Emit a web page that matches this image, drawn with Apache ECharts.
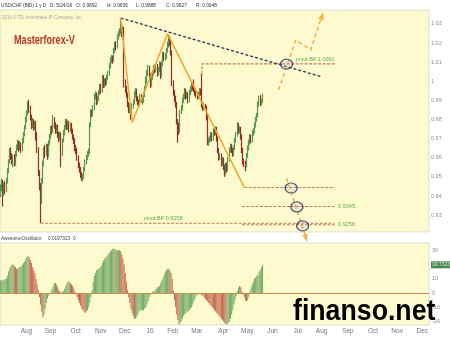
<!DOCTYPE html>
<html><head><meta charset="utf-8">
<script src="https://cdn.jsdelivr.net/npm/echarts@6/dist/echarts.min.js"></script>
<style>html,body{margin:0;padding:0;background:#fff}#c{width:450px;height:337px}</style>
</head><body><div id="c"></div>
<script>
// ---- DATA ----
// daily candles USD/CHF from 2015-07-06 to 2016-05-24 : [open, close, low, high]
const ohlc = [
[0.9420,0.9440,0.9395,0.9462],[0.9440,0.9470,0.9425,0.9492],[0.9470,0.9415,0.9345,0.9485],[0.9415,0.9455,0.9400,0.9470],[0.9455,0.9430,0.9410,0.9478],
[0.9430,0.9480,0.9420,0.9495],[0.9480,0.9530,0.9465,0.9545],[0.9530,0.9580,0.9520,0.9592],[0.9580,0.9635,0.9570,0.9650],[0.9635,0.9610,0.9590,0.9655],
[0.9610,0.9585,0.9565,0.9625],[0.9585,0.9600,0.9550,0.9615],[0.9600,0.9570,0.9555,0.9618],[0.9570,0.9620,0.9560,0.9635],[0.9620,0.9655,0.9605,0.9670],
[0.9655,0.9680,0.9640,0.9695],[0.9680,0.9650,0.9632,0.9690],[0.9650,0.9670,0.9638,0.9688],[0.9670,0.9645,0.9625,0.9680],[0.9645,0.9690,0.9635,0.9705],
[0.9690,0.9720,0.9675,0.9735],[0.9720,0.9760,0.9712,0.9772],[0.9760,0.9800,0.9748,0.9815],[0.9800,0.9830,0.9785,0.9848],[0.9830,0.9875,0.9820,0.9895],
[0.9875,0.9860,0.9835,0.9903],[0.9860,0.9810,0.9795,0.9872],[0.9810,0.9770,0.9750,0.9825],[0.9770,0.9790,0.9755,0.9808],[0.9790,0.9760,0.9742,0.9802],
[0.9760,0.9780,0.9745,0.9795],[0.9780,0.9720,0.9690,0.9792],[0.9720,0.9640,0.9625,0.9735],[0.9640,0.9520,0.9505,0.9655],[0.9520,0.9450,0.9430,0.9535],
[0.9450,0.9380,0.9259,0.9468],[0.9380,0.9480,0.9360,0.9495],[0.9480,0.9570,0.9465,0.9585],[0.9570,0.9640,0.9555,0.9655],[0.9640,0.9620,0.9600,0.9668],
[0.9620,0.9660,0.9610,0.9675],[0.9660,0.9610,0.9590,0.9672],[0.9610,0.9680,0.9602,0.9692],[0.9680,0.9710,0.9665,0.9725],[0.9710,0.9750,0.9700,0.9765],
[0.9750,0.9740,0.9722,0.9770],[0.9740,0.9800,0.9732,0.9824],[0.9800,0.9770,0.9752,0.9812],[0.9770,0.9740,0.9725,0.9785],[0.9740,0.9760,0.9728,0.9775],
[0.9760,0.9720,0.9705,0.9772],[0.9720,0.9700,0.9682,0.9735],[0.9700,0.9720,0.9690,0.9738],[0.9720,0.9620,0.9550,0.9732],[0.9620,0.9690,0.9610,0.9702],
[0.9690,0.9730,0.9680,0.9745],[0.9730,0.9760,0.9718,0.9772],[0.9760,0.9790,0.9748,0.9805],[0.9790,0.9760,0.9745,0.9802],[0.9760,0.9780,0.9748,0.9795],
[0.9780,0.9750,0.9732,0.9792],[0.9750,0.9770,0.9738,0.9785],[0.9770,0.9740,0.9725,0.9782],[0.9740,0.9710,0.9695,0.9752],[0.9710,0.9690,0.9672,0.9722],
[0.9690,0.9650,0.9635,0.9702],[0.9650,0.9640,0.9620,0.9668],[0.9640,0.9600,0.9585,0.9652],[0.9600,0.9560,0.9545,0.9612],[0.9560,0.9540,0.9522,0.9575],
[0.9540,0.9510,0.9495,0.9552],[0.9510,0.9490,0.9480,0.9525],[0.9490,0.9500,0.9476,0.9515],[0.9500,0.9540,0.9490,0.9552],[0.9540,0.9580,0.9530,0.9592],
[0.9580,0.9600,0.9565,0.9615],[0.9600,0.9620,0.9588,0.9635],[0.9620,0.9630,0.9605,0.9648],[0.9630,0.9770,0.9620,0.9785],[0.9770,0.9840,0.9760,0.9855],
[0.9840,0.9830,0.9812,0.9852],[0.9830,0.9860,0.9818,0.9875],[0.9860,0.9920,0.9848,0.9935],[0.9920,0.9930,0.9905,0.9948],[0.9930,0.9890,0.9875,0.9942],
[0.9890,0.9910,0.9880,0.9925],[0.9910,0.9940,0.9898,0.9955],[0.9940,0.9970,0.9928,0.9985],[0.9970,0.9950,0.9935,0.9988],[0.9950,1.0020,0.9942,1.0035],
[1.0020,0.9980,0.9965,1.0032],[0.9980,1.0000,0.9968,1.0015],[1.0000,0.9990,0.9975,1.0018],[0.9990,1.0020,0.9982,1.0035],[1.0020,1.0040,1.0008,1.0055],
[1.0040,1.0080,1.0030,1.0095],[1.0080,1.0110,1.0068,1.0125],[1.0110,1.0120,1.0095,1.0138],[1.0120,1.0110,1.0092,1.0135],[1.0110,1.0160,1.0102,1.0175],
[1.0160,1.0190,1.0148,1.0205],[1.0190,1.0180,1.0162,1.0210],[1.0180,1.0230,1.0172,1.0245],[1.0230,1.0250,1.0218,1.0265],[1.0250,1.0260,1.0235,1.0278],
[1.0260,1.0280,1.0245,1.0331],[1.0280,1.0250,1.0232,1.0300],[1.0250,1.0270,1.0238,1.0290],[1.0270,0.9990,0.9968,1.0285],[0.9990,0.9960,0.9940,1.0010],
[0.9960,0.9930,0.9915,0.9975],[0.9930,0.9880,0.9865,0.9942],[0.9880,0.9850,0.9835,0.9892],[0.9850,0.9870,0.9832,0.9885],[0.9870,0.9840,0.9800,0.9882],
[0.9840,0.9870,0.9828,0.9885],[0.9870,0.9890,0.9858,0.9905],[0.9890,0.9930,0.9878,0.9948],[0.9930,0.9950,0.9915,0.9965],[0.9950,0.9910,0.9895,0.9962],
[0.9910,0.9890,0.9875,0.9922],[0.9890,0.9880,0.9862,0.9905],[0.9880,0.9920,0.9870,0.9935],[0.9920,0.9905,0.9890,0.9932],
[0.9890,0.9900,0.9878,0.9915],[0.9900,0.9930,0.9888,0.9945],[0.9930,0.9960,0.9918,0.9975],[0.9960,1.0010,0.9950,1.0025],
[1.0005,1.0040,0.9990,1.0058],[1.0040,1.0070,1.0028,1.0085],[1.0070,1.0030,1.0015,1.0082],[1.0030,0.9980,0.9965,1.0042],[0.9980,1.0020,0.9972,1.0035],
[1.0020,1.0040,1.0008,1.0055],[1.0040,1.0070,1.0030,1.0085],[1.0070,1.0060,1.0042,1.0088],[1.0060,1.0080,1.0048,1.0095],[1.0080,1.0040,1.0025,1.0092],
[1.0040,1.0060,1.0030,1.0075],[1.0060,1.0090,1.0048,1.0105],[1.0090,1.0030,1.0012,1.0100],[1.0030,1.0090,1.0022,1.0105],[1.0090,1.0140,1.0080,1.0155],
[1.0140,1.0120,1.0105,1.0152],[1.0120,1.0130,1.0108,1.0148],[1.0130,1.0160,1.0118,1.0175],[1.0160,1.0190,1.0150,1.0210],[1.0190,1.0220,1.0175,1.0242],
[1.0220,1.0200,1.0185,1.0238],[1.0200,1.0150,1.0135,1.0215],[1.0150,0.9990,0.9975,1.0162],[0.9990,0.9940,0.9925,1.0005],[0.9940,0.9910,0.9892,0.9955],
[0.9910,0.9880,0.9862,0.9925],[0.9880,0.9790,0.9775,0.9892],[0.9790,0.9770,0.9680,0.9802],[0.9770,0.9740,0.9720,0.9785],[0.9740,0.9840,0.9732,0.9852],
[0.9840,0.9860,0.9828,0.9875],[0.9860,0.9900,0.9848,0.9915],[0.9900,0.9920,0.9888,0.9935],[0.9920,0.9950,0.9908,0.9965],[0.9950,0.9920,0.9905,0.9962],
[0.9920,0.9930,0.9908,0.9948],[0.9930,0.9900,0.9885,0.9942],[0.9900,0.9940,0.9890,0.9955],[0.9940,0.9960,0.9928,0.9975],[0.9960,0.9980,0.9945,0.9995],
[0.9980,0.9970,0.9952,0.9992],[0.9970,0.9960,0.9945,1.0010],[0.9960,0.9940,0.9925,0.9972],[0.9940,0.9930,0.9915,0.9955],[0.9930,0.9920,0.9905,0.9945],
[0.9920,0.9930,0.9908,0.9945],[0.9930,0.9950,0.9918,0.9965],[0.9950,0.9940,0.9925,0.9962],[0.9940,0.9880,0.9862,1.0040],[0.9880,0.9860,0.9845,0.9895],
[0.9860,0.9870,0.9848,0.9885],[0.9870,0.9860,0.9845,0.9882],[0.9860,0.9810,0.9795,0.9872],[0.9810,0.9680,0.9665,0.9822],[0.9680,0.9690,0.9662,0.9705],
[0.9690,0.9700,0.9678,0.9715],[0.9700,0.9720,0.9688,0.9735],[0.9720,0.9700,0.9685,0.9732],[0.9700,0.9740,0.9690,0.9755],[0.9740,0.9730,0.9715,0.9752],
[0.9730,0.9750,0.9718,0.9765],[0.9750,0.9700,0.9685,0.9762],[0.9700,0.9640,0.9625,0.9712],[0.9640,0.9600,0.9585,0.9652],[0.9600,0.9610,0.9588,0.9625],
[0.9610,0.9570,0.9555,0.9622],[0.9570,0.9590,0.9558,0.9605],[0.9590,0.9550,0.9535,0.9602],[0.9550,0.9520,0.9500,0.9565],[0.9520,0.9560,0.9510,0.9575],
[0.9560,0.9540,0.9522,0.9575],[0.9540,0.9590,0.9530,0.9605],[0.9590,0.9640,0.9580,0.9655],[0.9640,0.9660,0.9628,0.9675],[0.9660,0.9640,0.9625,0.9672],
[0.9640,0.9620,0.9605,0.9652],[0.9620,0.9650,0.9610,0.9665],[0.9650,0.9690,0.9640,0.9705],[0.9690,0.9720,0.9678,0.9735],[0.9720,0.9770,0.9710,0.9787],
[0.9770,0.9740,0.9725,0.9782],[0.9740,0.9750,0.9728,0.9765],[0.9750,0.9710,0.9695,0.9762],[0.9710,0.9640,0.9625,0.9722],[0.9640,0.9580,0.9565,0.9652],
[0.9580,0.9570,0.9552,0.9595],[0.9570,0.9560,0.9530,0.9585],[0.9560,0.9610,0.9550,0.9625],[0.9610,0.9650,0.9600,0.9665],[0.9650,0.9680,0.9638,0.9695],
[0.9680,0.9710,0.9668,0.9725],[0.9710,0.9690,0.9675,0.9722],[0.9690,0.9730,0.9680,0.9745],[0.9730,0.9740,0.9715,0.9755],[0.9740,0.9770,0.9728,0.9785],
[0.9770,0.9800,0.9758,0.9815],[0.9800,0.9820,0.9788,0.9835],[0.9820,0.9880,0.9810,0.9895],[0.9880,0.9910,0.9868,0.9925],[0.9910,0.9890,0.9872,0.9928],
[0.9890,0.9892,0.9875,0.9908],[0.9892,0.9927,0.9888,0.9936]
];
// Awesome Oscillator (x1000)
const ao = [
9,9,9,9,10,10,12,15,17,19,20,20,19,18,17,17,18,18,19,20,21,22,24,25,26,25,23,21,18,16,14,10,6,2,
-3,-8,-13,-17,-15,-11,-7,-4,-2,0,1,3,5,7,7,6,4,2,1,0,1,1,3,5,7,8,8,7,6,5,3,1,-1,-3,
-5,-7,-9,-11,-12,-13,-14,-13,-12,-10,-7,-3,2,8,12,14,16,17,17,18,19,21,23,24,25,26,27,
28,29,30,31,31,31,30,30,30,30,29,27,24,20,14,8,2,-3,-7,-11,-14,-16,-18,
-18,-17,-15,-13,-12,-12,-12,-12,-11,-10,-8,-6,-3,-1,0,1,1,2,3,4,4,5,7,9,11,13,15,16,17,17,16,14,10,2,
-5,-10,-15,-19,-22,-21,-20,-18,-16,-15,-14,-13,-13,-12,-11,-10,-8,-6,-4,-2,-1,-1,0,
-1,-2,-2,-3,-4,-5,-6,-7,-8,-9,-10,-11,-12,-13,-14,-15,-16,-17,-18,-19,-20,-21,
-22,-22,-21,-20,-18,-15,-12,-8,-5,-2,1,4,5,4,1,-1,-3,-5,-6,-5,-3,1,4,6,8,10,11,12,13,15,16,18,19.7323
];
const priceTicks = [0.93,0.94,0.95,0.96,0.97,0.98,0.99,1.00,1.01,1.02,1.03];
const aoTicks = [-20,-10,0,10,30];
const holidays = ['2015-12-25','2016-01-01'];
// annotation points [date, price]
const trendLine = [['2015-11-30',1.0331],['2016-08-04',1.0023]];
const waveLine  = [['2015-11-30',1.0331],['2015-12-14',0.9785],['2016-01-28',1.0248],['2016-05-02',0.9445]];
const upPath    = [['2016-06-13',0.9955],['2016-07-04',1.0216],['2016-07-21',1.0164],['2016-08-04',1.0342]];
const downPath  = [['2016-06-22',0.9494],['2016-07-15',0.9180]];
const pivotHigh = [['2016-03-10',1.0040],['2016-03-10',1.0091],['2016-08-19',1.0091]];
const level9445 = [['2016-05-02',0.9445],['2016-08-19',0.9445]];
const level9345 = [['2016-04-28',0.9345],['2016-08-19',0.9345]];
const level9250 = [['2016-04-28',0.9250],['2016-08-19',0.9250]];
const pivotLow  = [['2015-08-24',0.9258],['2016-08-19',0.9258]];
const circles   = [['2016-06-22',1.0090],['2016-06-28',0.9442],['2016-07-05',0.9343],['2016-07-12',0.9244]];
const levelLabels = [
  {at:['2016-08-19',1.0091], text:'pivot BF 1.0091', pos:'top'},
  {at:['2016-02-16',0.9258], text:'pivot BF 0.9258', pos:'top'},
  {at:['2016-08-19',0.9345], text:'0.9345', pos:'right'},
  {at:['2016-08-19',0.9250], text:'0.9250', pos:'right'}
];

// ---- axis categories (weekdays) ----
const dates = [];
(function(){
  const d = new Date(Date.UTC(2015,6,6)), end = Date.UTC(2016,11,13);
  while (d.getTime() <= end) {
    const w = d.getUTCDay(), s = d.toISOString().slice(0,10);
    if (w !== 0 && w !== 6 && holidays.indexOf(s) < 0) dates.push(s);
    d.setUTCDate(d.getUTCDate()+1);
  }
})();
const MON = ['Jan','Feb','Mar','Apr','May','Jun','Jul','Aug','Sep','Oct','Nov','Dec'];
function isMonthStart(i){ return i>0 && dates[i].slice(5,7)!==dates[i-1].slice(5,7); }
function monthLabel(v){ const m = +v.slice(5,7)-1; return m===0 ? v.slice(2,4) : MON[m]; }

const UP='#559a52', DOWN='#952c22', AOUP='#72a966', AODN='#c4674f';
const ORANGE='#f0a72c', LEVEL='#c47a55', NAVY='#2f2f5c', GREEN='#2f962f';
const FONT='Liberation Sans';

function pathSeries(pts, style, z){
  return {type:'line', xAxisIndex:0, yAxisIndex:0, data:pts, symbol:'none', clip:false, silent:true,
    animation:false, z:z||5, lineStyle:style};
}
function txt(x, y, s, size, fill, sx, extra){
  return {type:'text', x:x, y:y, z:20, scaleX:sx||1,
    style:Object.assign({text:s, fill:fill, font:size+'px '+FONT, verticalAlign:'middle'}, extra||{})};
}

const chart = echarts.init(document.getElementById('c'), null, {renderer:'canvas'});
chart.setOption({
  animation:false,
  backgroundColor:'#ffffff',
  textStyle:{fontFamily:'Liberation Sans, Arial, sans-serif'},
  grid:[
    {left:0, top:10, width:429, height:222, show:true, backgroundColor:'#fdfad0', borderColor:'#c9c9c9', borderWidth:0.6},
    {left:0, top:243, width:429, height:82, show:true, backgroundColor:'#fdfad0', borderColor:'#c9c9c9', borderWidth:0.6}
  ],
  xAxis:[
    {type:'category', gridIndex:0, data:dates, boundaryGap:true, axisLine:{show:false}, axisTick:{show:false}, axisLabel:{show:false}, splitLine:{show:false}},
    {type:'category', gridIndex:1, data:dates, boundaryGap:true, axisLine:{show:false}, axisTick:{show:false}, splitLine:{show:false},
     axisLabel:{interval:function(i){return isMonthStart(i);}, formatter:monthLabel, color:'#777', fontSize:6.5, margin:3, padding:[0,0,0,6]}}
  ],
  yAxis:[
    {type:'value', gridIndex:0, position:'right', min:0.9212, max:1.0373, scale:true,
     axisLine:{show:false}, axisTick:{show:false}, splitLine:{show:false},
     axisLabel:{customValues:priceTicks, color:'#8a8a8a', fontSize:5.5, margin:2,
       formatter:function(v){return String(Math.round(v*100)/100);}}},
    {type:'value', gridIndex:1, position:'right', min:-22.4, max:35,
     axisLine:{show:false}, axisTick:{show:false}, splitLine:{show:false},
     axisLabel:{customValues:aoTicks, color:'#8a8a8a', fontSize:5.5, margin:3}}
  ],
  series:[
    {type:'candlestick', xAxisIndex:0, yAxisIndex:0, data:ohlc, barWidth:'95%', z:2,
     itemStyle:{color:UP, color0:DOWN, borderColor:UP, borderColor0:DOWN, borderWidth:1.2}},
    {type:'bar', xAxisIndex:1, yAxisIndex:1, data:ao, barWidth:'62%', silent:true,
     itemStyle:{color:function(p){const i=p.dataIndex; return (i===0||ao[i]>=ao[i-1])?AOUP:AODN;}},
     markLine:{silent:true, symbol:'none', label:{show:false}, lineStyle:{color:'#c8904e', width:1, type:'solid'}, data:[{yAxis:0}]}},
    // last AO value box
    {type:'scatter', xAxisIndex:1, yAxisIndex:1, symbolSize:1, itemStyle:{color:'transparent'}, silent:true, z:10,
     data:[[dates[dates.length-1], ao[ao.length-1]]],
     label:{show:true, position:'right', distance:2, formatter:function(p){return p.value[1].toFixed(4);},
       backgroundColor:'#1f6a2b', color:'#fff', fontSize:5, padding:[1,1,1,1]}},
    // levels
    pathSeries(pivotLow, {color:LEVEL, width:1.1, type:[3,1.5]}, 4),
    pathSeries(level9445, {color:LEVEL, width:1.1, type:[3,1.5]}, 4),
    pathSeries(level9345, {color:LEVEL, width:1.1, type:[3,1.5]}, 4),
    pathSeries(level9250, {color:LEVEL, width:1.1, type:[3,1.5]}, 4),
    pathSeries(pivotHigh, {color:LEVEL, width:1.1, type:[3,1.5]}, 4),
    // trend line & waves
    pathSeries(trendLine, {color:NAVY, width:1.3, type:[3,2]}, 5),
    pathSeries(waveLine, {color:ORANGE, width:1.5, type:'solid'}, 5),
    pathSeries(upPath, {color:ORANGE, width:1.3, type:[4,3]}, 6),
    pathSeries(downPath, {color:ORANGE, width:1.3, type:[4,3]}, 6),
    // arrow heads
    {type:'scatter', xAxisIndex:0, yAxisIndex:0, clip:false, silent:true, z:7, symbol:'triangle', symbolSize:[6,8],
     itemStyle:{color:ORANGE},
     data:[{value:upPath[upPath.length-1], symbolRotate:-18},{value:downPath[downPath.length-1], symbolRotate:-162}]},
    // circles
    {type:'scatter', xAxisIndex:0, yAxisIndex:0, clip:false, silent:true, z:8, symbol:'circle', symbolSize:[12,10],
     itemStyle:{color:'rgba(170,180,215,0.25)', borderColor:NAVY, borderWidth:1.3}, data:circles},
    // level labels
    {type:'scatter', xAxisIndex:0, yAxisIndex:0, clip:false, silent:true, z:9, symbolSize:1, itemStyle:{color:'transparent'},
     data:levelLabels.map(function(l){return {value:l.at, label:{show:true, formatter:l.text, position:l.pos,
        align:l.pos==='top'?'right':'left', distance:l.pos==='top'?1:3, color:GREEN, fontSize:5.5}};})}
  ],
  graphic:[
    txt(1, 5, 'USD/CHF (BID) 1 y D', 6, '#333', 0.78),
    txt(50, 5, 'D: 5/24/16', 6, '#333', 0.8),
    txt(76, 5, 'O: 0.9892', 6, '#333', 0.8),
    txt(107, 5, 'H: 0.9936', 6, '#333', 0.8),
    txt(136, 5, 'L: 0.9888', 6, '#333', 0.8),
    txt(166, 5, 'C: 0.9927', 6, '#333', 0.8),
    txt(196, 5, 'R: 0.0048', 6, '#333', 0.8),
    txt(2, 17, '2016 \u00a9 TD Ameritrade IP Company, Inc.', 5.5, '#a8a8a0', 0.82),
    txt(14, 41, 'Masterforex-V', 12, '#be3328', 0.76, {font:'bold 12px '+FONT}),
    txt(1, 238, 'AwesomeOscillator', 5.5, '#444', 0.86),
    txt(48, 238, '0.0197323', 5.5, '#444', 0.85),
    txt(73, 238, '0', 5.5, '#444', 0.85),
    txt(293, 312, 'finanso.net', 30, '#000', 0.89, {font:'bold 30px '+FONT})
  ]
});
</script></body></html>
